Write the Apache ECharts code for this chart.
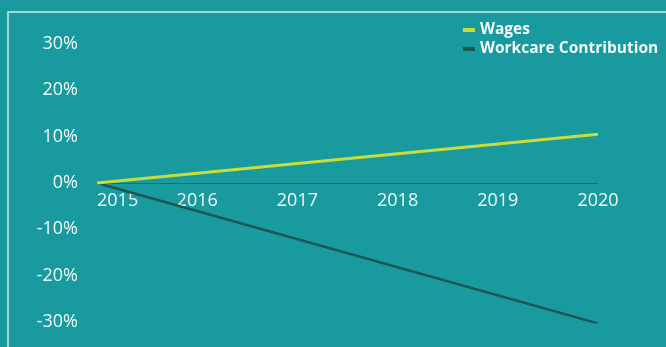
<!DOCTYPE html>
<html>
<head>
<meta charset="utf-8">
<script src="https://cdn.jsdelivr.net/npm/echarts@6/dist/echarts.min.js"></script>
<style>
html,body{margin:0;padding:0;background:#189a9e;}
#c{width:666px;height:347px;}
</style>
</head>
<body>
<div id="c"></div>
<script>
const years = [2015, 2020];
const wages = [0, 10.5];
const workcare = [0, -30.3];
const yTicks = [-30, -20, -10, 0, 10, 20, 30];
const seriesNames = ['Wages', 'Workcare Contribution'];

const chart = echarts.init(document.getElementById('c'));
const font = '"Open Sans", "DejaVu Sans", sans-serif';
const gridTop = 44, gridBottom = 25, H = 347;
const zeroOffset = -((H - gridBottom) - (gridTop + (H - gridTop - gridBottom) / 2));
chart.setOption({
  backgroundColor: '#189a9e',
  animation: false,
  graphic: [{
    type: 'polyline',
    shape: { points: [[8, 347], [8, 12], [666, 12]] },
    style: { stroke: '#cdeced', lineWidth: 1.5, fill: null },
    silent: true
  }],
  legend: {
    orient: 'vertical',
    left: 458,
    top: 17,
    itemWidth: 12,
    itemHeight: 4,
    itemGap: 3,
    icon: 'rect',
    data: seriesNames,
    textStyle: { color: '#f2f9f9', fontSize: 15.5, fontFamily: font, fontWeight: 'bold' }
  },
  grid: { left: 97, right: 68, top: gridTop, bottom: gridBottom },
  xAxis: {
    type: 'value',
    position: 'bottom',
    offset: zeroOffset,
    min: years[0],
    max: years[years.length - 1],
    interval: 1,
    splitLine: { show: false },
    axisTick: { show: false },
    axisLine: { show: true, onZero: false, lineStyle: { color: '#17706f', width: 1 } },
    axisLabel: {
      color: '#f2f9f9', fontSize: 18, fontFamily: font, margin: 9,
      alignMinLabel: 'left',
      formatter: v => String(v)
    }
  },
  yAxis: {
    type: 'value',
    min: yTicks[0],
    max: yTicks[yTicks.length - 1],
    interval: 10,
    splitLine: { show: false },
    axisTick: { show: false },
    axisLine: { show: false },
    axisLabel: {
      color: '#f2f9f9', fontSize: 18, fontFamily: font, margin: 19,
      formatter: v => v + '%'
    }
  },
  series: [
    {
      name: 'Workcare Contribution', type: 'line', symbol: 'none', z: 2,
      data: years.map((y, i) => [y, workcare[i]]),
      lineStyle: { color: '#1d5753', width: 2.5 },
      itemStyle: { color: '#1d5753' }
    },
    {
      name: 'Wages', type: 'line', symbol: 'none', z: 3,
      data: years.map((y, i) => [y, wages[i]]),
      lineStyle: { color: '#c9dc3a', width: 3 },
      itemStyle: { color: '#c9dc3a' }
    }
  ]
});
</script>
</body>
</html>
